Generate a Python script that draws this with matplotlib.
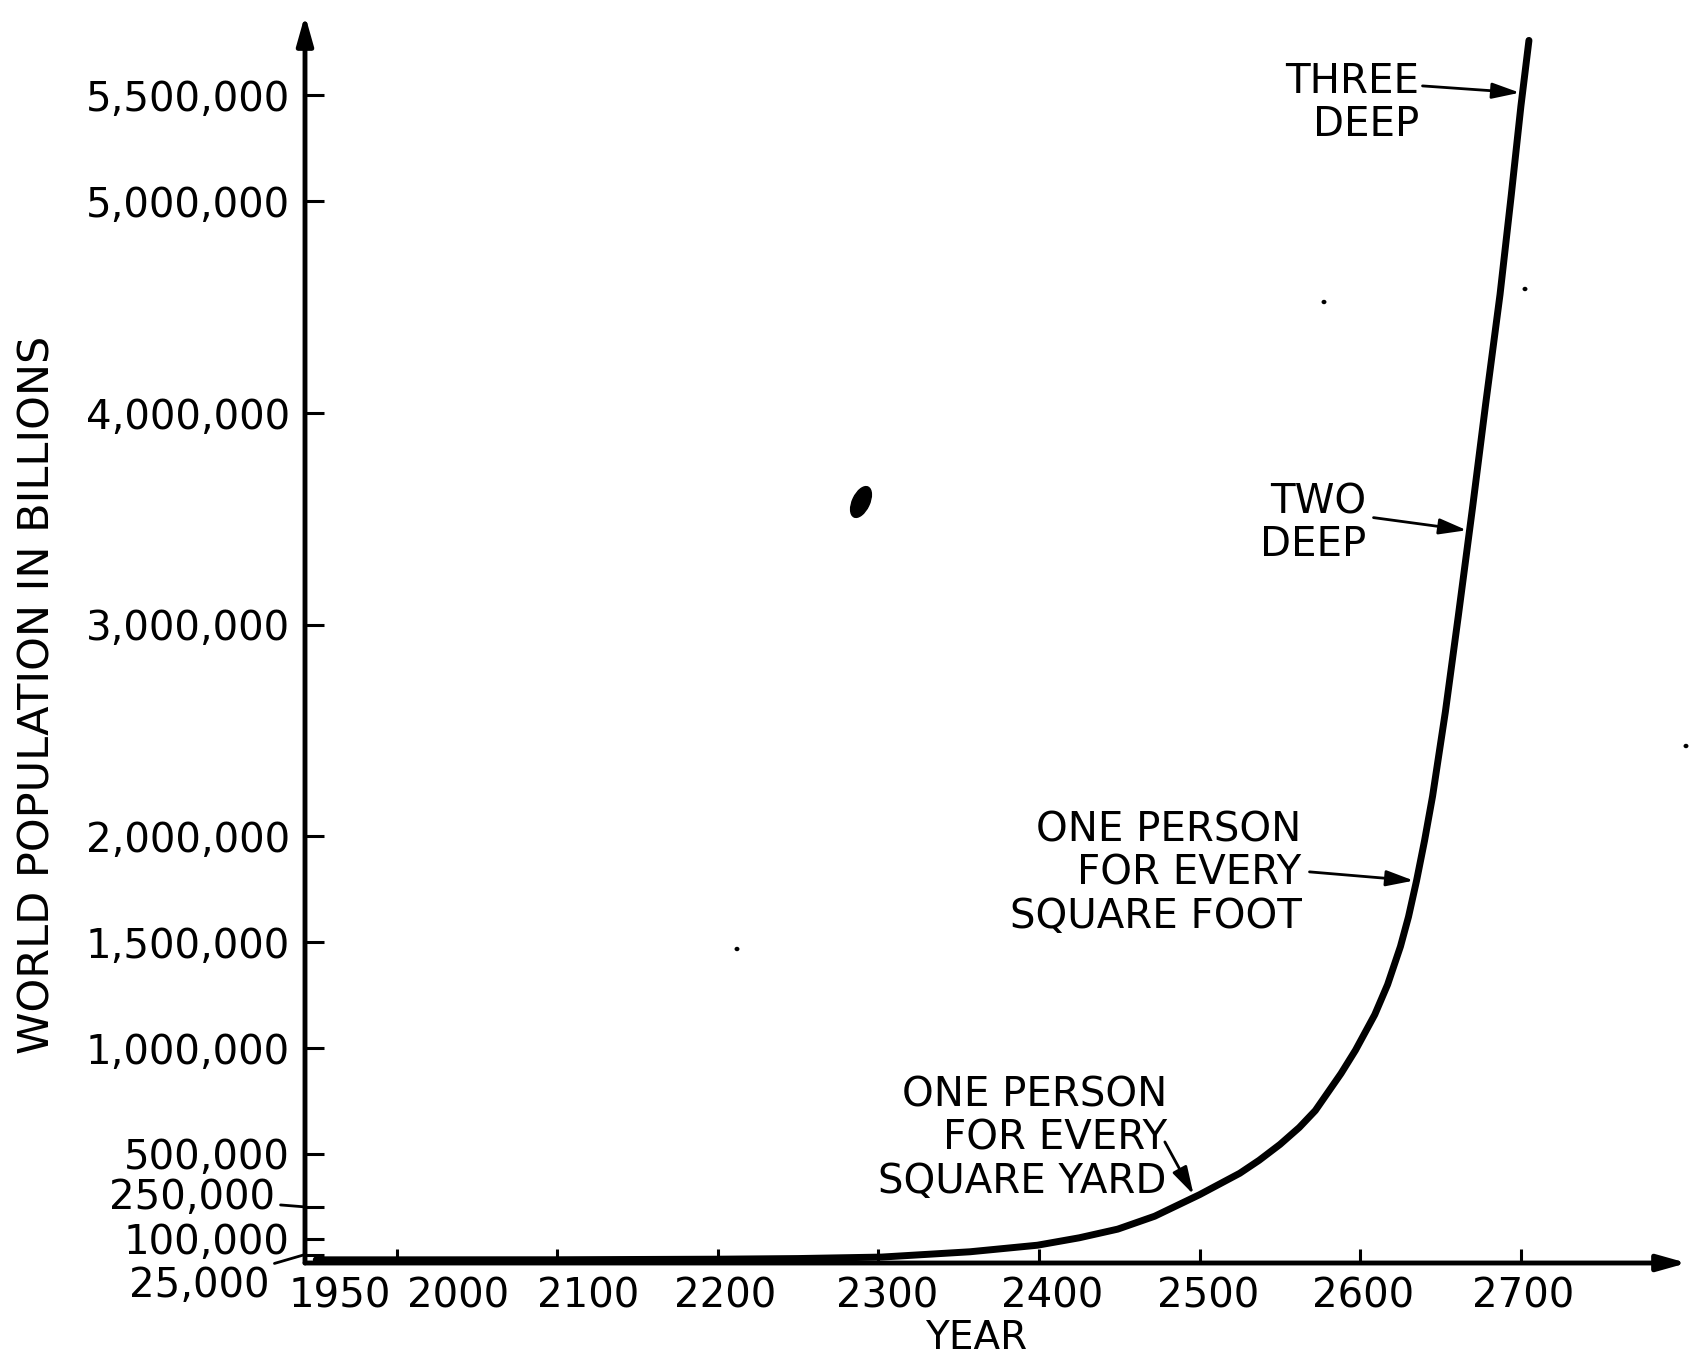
import numpy as np
import matplotlib
matplotlib.use("Agg")
import matplotlib.pyplot as plt
from matplotlib.patches import Ellipse
from matplotlib.transforms import ScaledTranslation

# Projected world population (billions) by year
years = [1950, 2000, 2100, 2200, 2250, 2302, 2357, 2399, 2425, 2449, 2472,
         2500, 2525, 2537, 2550, 2562, 2572, 2588, 2597, 2609, 2617, 2625,
         2630, 2635, 2640, 2645, 2653, 2661, 2670, 2678, 2687, 2694, 2700,
         2705]
population = [2.5, 6, 300, 3000, 6000, 13000, 38000, 69000, 104000, 145000,
              206000, 308000, 409000, 470000, 545000, 625000, 705000, 880000,
              990000, 1158000, 1300000, 1480000, 1620000, 1790000, 1980000,
              2190000, 2590000, 3040000, 3560000, 4040000, 4560000, 5030000,
              5450000, 5760000]

# Axis ticks and labels
tick_years = [2000, 2100, 2200, 2300, 2400, 2500, 2600, 2700]
label_years = [1950, 2000, 2100, 2200, 2300, 2400, 2500, 2600, 2700]
label_shift_px = [24, 62, 31, 7, 9, 13, 8, 3, 2]
pop_ticks = [25000, 100000, 250000, 500000, 1000000, 1500000, 2000000,
             3000000, 4000000, 5000000, 5500000]
pop_labels = ["25,000", "100,000", "250,000", "500,000", "1,000,000",
              "1,500,000", "2,000,000", "3,000,000", "4,000,000",
              "5,000,000", "5,500,000"]
leader_labels = {"250,000": (-30, 9), "25,000": (-36, -31)}

# Density milestones marked along the curve
notes = ["THREE\nDEEP", "TWO\nDEEP", "ONE PERSON\nFOR EVERY\nSQUARE FOOT",
         "ONE PERSON\nFOR EVERY\nSQUARE YARD"]
note_years = [2701, 2668, 2635, 2497]
note_text_offset = [(-103, -11), (-103, 7), (-115, 7), (-28, 58)]
note_arrow_offset = [(-100, 7), (-96, 13), (-107, 9), (-30, 55)]

FS_TICK = 29
FS_NOTE = 29
plt.rcParams["font.family"] = ["DejaVu Sans"]

fig = plt.figure(figsize=(16.91, 13.58), dpi=100)
W, H = 1691, 1358
x0, x1, ytop, ybot = 305, 1687, 15, 1263
ax = fig.add_axes([x0 / W, (H - ybot) / H, (x1 - x0) / W, (ybot - ytop) / H])
ax.set_xlim(1943, 2803.4)
ax.set_ylim(-15000, 5.88e6)
for s in ax.spines.values():
    s.set_visible(False)

# Axis lines with arrowheads
arrow_kw = dict(arrowstyle="-|>,head_length=1.6,head_width=0.45", lw=3.5,
                color="black", shrinkA=0, shrinkB=0, mutation_scale=11)
ax.annotate("", xy=(0, 1), xytext=(0, 0), xycoords="axes fraction",
            arrowprops=arrow_kw, annotation_clip=False)
ax.annotate("", xy=(1, 0), xytext=(0, 0), xycoords="axes fraction",
            arrowprops=arrow_kw, annotation_clip=False)

# Population curve
ax.plot(years, population, color="black", lw=5, solid_capstyle="round",
        solid_joinstyle="round", clip_on=False)

# Y ticks
ax.set_yticks(pop_ticks)
ax.set_yticklabels([("" if l in leader_labels else l) for l in pop_labels],
                   fontsize=FS_TICK)
ax.tick_params(axis="y", direction="in", length=14, width=2.2, pad=11,
               left=True, right=False)
for val, lab in zip(pop_ticks, pop_labels):
    if lab in leader_labels:
        dx, dy = leader_labels[lab]
        ax.annotate(lab, xy=(1943, val), xytext=(dx, dy),
                    textcoords="offset pixels", ha="right", va="center",
                    fontsize=FS_TICK,
                    arrowprops=dict(arrowstyle="-", lw=2, color="black",
                                    shrinkA=2, shrinkB=0))

# X ticks (marks only); labels drawn as text
ax.set_xticks(tick_years)
ax.set_xticklabels([])
ax.tick_params(axis="x", direction="in", length=10, width=2.2,
               bottom=True, top=False)
for yr, sh in zip(label_years, label_shift_px):
    tr = ax.get_xaxis_transform() + ScaledTranslation(sh / 100, -0.14,
                                                      fig.dpi_scale_trans)
    ax.text(yr, 0, str(yr), transform=tr, ha="center", va="top",
            fontsize=FS_TICK)

# Axis titles
fig.text(976 / W, 1 - 1349 / H, "YEAR", ha="center", va="baseline",
         fontsize=28)
fig.text(38 / W, 1 - 695 / H, "WORLD POPULATION IN BILLIONS", rotation=90,
         ha="center", va="center", fontsize=31)

# Milestone labels and arrows
for txt, yr, (tx, ty), (axo, ayo) in zip(notes, note_years, note_text_offset,
                                          note_arrow_offset):
    yv = float(np.interp(yr, years, population))
    ax.annotate(txt, xy=(yr, yv), xytext=(tx, ty), textcoords="offset pixels",
                ha="right", va="center", multialignment="right",
                fontsize=FS_NOTE, linespacing=1.1)
    ax.annotate("", xy=(yr, yv), xytext=(axo, ayo), textcoords="offset pixels",
                arrowprops=dict(arrowstyle="-|>,head_length=1.4,head_width=0.4",
                                lw=2, color="black", shrinkA=0, shrinkB=2,
                                mutation_scale=12))

# Ink spot and specks on the sheet
fig.patches.append(Ellipse((8.61, 13.58 - 5.02), 0.17, 0.33, angle=-25,
                           color="black", transform=fig.dpi_scale_trans))
for sx, sy in [(1324, 302), (1525, 289), (1686, 746), (737, 949)]:
    fig.patches.append(Ellipse((sx / 100, (H - sy) / 100), 0.035, 0.03,
                               color="black", transform=fig.dpi_scale_trans))

fig.savefig("out.png", dpi=100)
